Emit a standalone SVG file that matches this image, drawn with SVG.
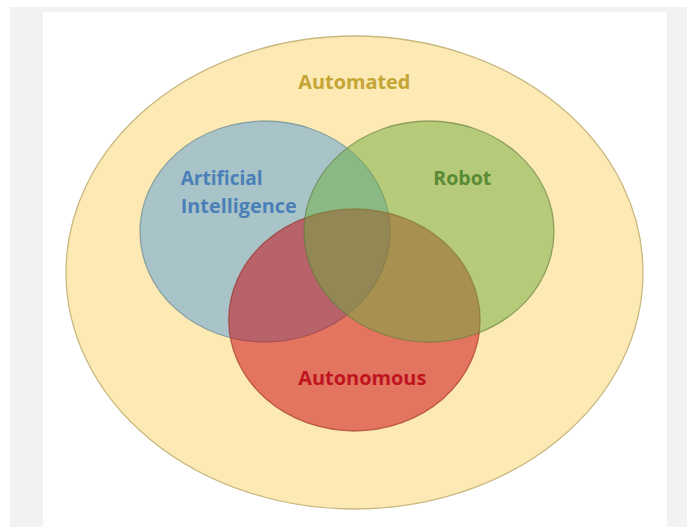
<svg xmlns="http://www.w3.org/2000/svg" width="687" height="527" viewBox="0 0 687 527">
<style>
.lbl{font-family:"Open Sans","Liberation Sans",sans-serif;font-weight:bold;font-size:19.5px}
.set{stroke-width:1.3}
</style>
<rect x="0" y="0" width="687" height="527" fill="#ffffff"/>
<rect x="10" y="7" width="677" height="520" fill="#f2f2f2"/>
<rect x="43" y="12" width="624" height="515" fill="#ffffff"/>
<g id="automated">
<ellipse class="set" cx="354.5" cy="272.5" rx="288.5" ry="236.5" fill="#fce9b4" stroke="#c9b880"/>
<text class="lbl" x="298.3" y="89" textLength="112" lengthAdjust="spacingAndGlyphs" fill="#c4a535">Automated</text>
</g>
<g id="ai">
<ellipse class="set" cx="265" cy="231.5" rx="125" ry="110.5" fill="#569fde" fill-opacity="0.5" stroke="#5d7f8a" stroke-opacity="0.6"/>
<text class="lbl" x="180.7" y="185" textLength="82" lengthAdjust="spacingAndGlyphs" fill="#4a7fb8">Artificial</text>
<text class="lbl" x="180.7" y="212.5" textLength="116" lengthAdjust="spacingAndGlyphs" fill="#4a7fb8">Intelligence</text>
</g>
<g id="autonomous">
<ellipse class="set" cx="354.4" cy="320" rx="125.7" ry="111" fill="#c8000c" fill-opacity="0.5" stroke="#9a2a20" stroke-opacity="0.6"/>
<text class="lbl" x="298.3" y="385" textLength="128" lengthAdjust="spacingAndGlyphs" fill="#bf1420">Autonomous</text>
</g>
<g id="robot">
<ellipse class="set" cx="429" cy="231.5" rx="125" ry="110.5" fill="#6ead40" fill-opacity="0.5" stroke="#5f7a3a" stroke-opacity="0.6"/>
<text class="lbl" x="433.3" y="185" textLength="58" lengthAdjust="spacingAndGlyphs" fill="#5b8a35">Robot</text>
</g>
<g id="connectors"></g>
</svg>
